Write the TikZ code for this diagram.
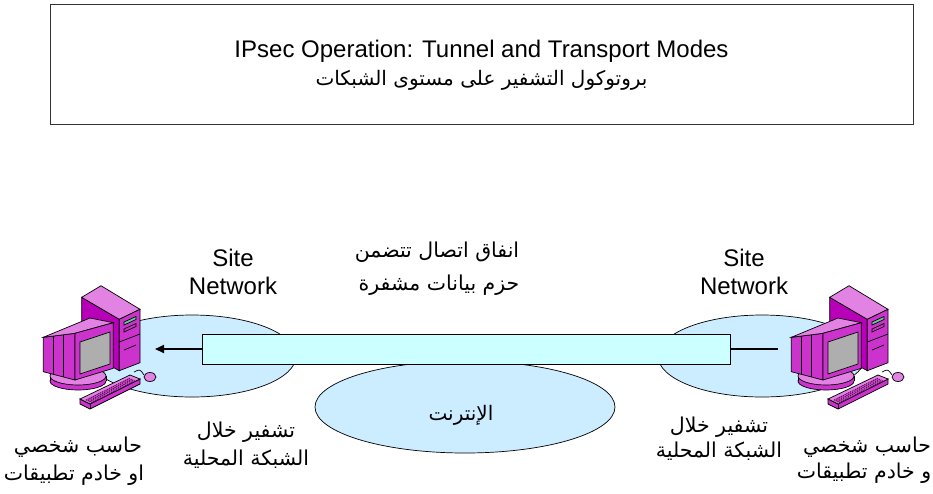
\documentclass[tikz,border=0pt]{standalone}
\usepackage{fontspec}
\setmainfont{Liberation Sans}
\newfontfamily\arabicfont[Script=Arabic]{DejaVu Sans}
\TeXXeTstate=1
\usetikzlibrary{positioning,shapes.geometric,arrows.meta,calc}

\definecolor{sitefill}{HTML}{CCECFF}
\definecolor{tunnelfill}{HTML}{CCFFFF}
\definecolor{pcdark}{HTML}{B800B8}
\definecolor{pcmid}{HTML}{CC33CC}
\definecolor{pclight}{HTML}{E282E2}
\definecolor{pcscreen}{HTML}{AEAEAE}
\definecolor{pcslot}{HTML}{66CC99}

\newcommand{\rtl}[1]{\beginR#1\endR}

\tikzset{
	pics/workstation/.style={code={
		% tower
		\draw[fill=pcdark] (51.7,17.3) -- (89.3,39.3) -- (89.3,90.7) -- (51.7,70) -- cycle;
		\draw[fill=pclight] (51.7,17.3) -- (71,5.7) -- (110,29.3) -- (89.3,39.3) -- cycle;
		\draw[fill=pcmid] (89.3,39.3) -- (110,29.3) -- (110,82.7) -- (89.3,90.7) -- cycle;
		\draw[fill=pcslot] (94,42) -- (106,36.5) -- (106,39.5) -- (94,45) -- cycle;
		\draw (94,49) -- (106,43.5) -- (106,46.5) -- (94,52) -- cycle;
		\draw (89.3,62) -- (110,54);
		\draw (94,70) -- (106,65);
		% stand
		\draw[fill=pcmid] (48,101) ellipse (28 and 9);
		\fill[pcmid] (20,96) rectangle (76,101);
		\draw (20,96) -- (20,101) (76,96) -- (76,101);
		\draw[fill=pclight] (48,96) ellipse (28 and 9);
		% monitor
		\draw[fill=pcmid] (13.3,57.3) -- (45,53.3) -- (45,100) -- (13.3,91.7) -- cycle;
		\draw (23.5,56) -- (23.5,94.3) (33.5,54.8) -- (33.5,97);
		\draw[fill=pclight] (13.3,57.3) -- (60,38) -- (83.3,42.7) -- (45,53.3) -- cycle;
		\draw[fill=pcmid] (45,53.3) -- (83.3,42.7) -- (83.3,88.3) -- (45,100) -- cycle;
		\draw[fill=pcscreen] (50,62) -- (80,52) -- (80,84) -- (50,94) -- cycle;
		% keyboard and mouse
		\draw[fill=pcmid] (50,119) -- (60,124) -- (110,99) -- (110,104) -- (60,129) -- (50,124) -- cycle;
		\draw (60,124) -- (60,129);
		\draw[fill=pclight] (50,119) -- (100,95) -- (110,99) -- (60,124) -- cycle;
		\foreach \k in {1,2,3,4}
			\draw[pcdark!60!black, line width=1.1pt, dash pattern=on 1.3pt off 0.7pt]
				($(54,119.5)+(\k*1.8,0.8*\k)$) -- ($(98,97.5)+(\k*1.8,0.8*\k)$);
		\draw (114,95) .. controls (110,89) .. (104,92);
		\draw[fill=pclight] (120,97) ellipse (6 and 4.5);
	}}
}

\begin{document}
\begin{tikzpicture}[x=1pt,y=-1pt, line width=0.7pt,
	en/.style={anchor=base, inner sep=0pt, font=\fontsize{24}{28}\selectfont},
	arb/.style={anchor=base, inner sep=0pt, font=\arabicfont\fontsize{20.5}{24}\selectfont},
	net/.style={ellipse, draw, fill=sitefill, inner sep=0pt}]
	\useasboundingbox (0,0) rectangle (933,493);

	\node (title) [draw=black!80, line width=1pt, minimum width=863pt, minimum height=120pt] at (481.5,64) {};
	\node (titleEn) [en] at (481.5,57) {IPsec Operation: Tunnel and Transport Modes};
	\node (titleAr) [arb, font=\arabicfont\fontsize{20}{24}\selectfont] at (481.5,85) {\rtl{بروتوكول التشفير على مستوى الشبكات}};

	\node (siteL) [net, minimum width=208pt, minimum height=82pt] at (192,356) {};
	\node (siteR) [net, minimum width=208pt, minimum height=82pt] at (762,356) {};
	\node (internet) [net, minimum width=300pt, minimum height=92pt] at (465,407) {};
	\node (tunnel) [draw, fill=tunnelfill, minimum width=528pt, minimum height=30pt, inner sep=0pt] at (466,349) {};

	\coordinate (pcLport) at (155,349);
	\coordinate (pcRport) at (778,349);
	\draw[line width=2pt, -{Triangle[length=9pt,width=8pt]}] (tunnel.west) -- (pcLport);
	\draw[line width=2pt] (tunnel.east) -- (pcRport);

	\pic (pcL) at (30,280) {workstation};
	\pic (pcR) at (778,280) {workstation};

	\node (siteLa) [en] at (233,266) {Site};
	\node (siteLb) [en] at (233,294) {Network};
	\node (siteRa) [en] at (744,266) {Site};
	\node (siteRb) [en] at (744,294) {Network};

	\node (tunA) [arb] at (437,257) {\rtl{انفاق اتصال تتضمن}};
	\node (tunB) [arb] at (439,290) {\rtl{حزم بيانات مشفرة}};
	\node (netText) [arb, font=\arabicfont\fontsize{20}{24}\selectfont] at (461,420) {\rtl{الإنترنت}};

	\node (encLa) [arb] at (246,437) {\rtl{تشفير خلال}};
	\node (encLb) [arb] at (246,465) {\rtl{الشبكة المحلية}};
	\node (encRa) [arb] at (719,432) {\rtl{تشفير خلال}};
	\node (encRb) [arb] at (719,457) {\rtl{الشبكة المحلية}};

	\node (hostLa) [arb] at (78,452) {\rtl{حاسب شخصي}};
	\node (hostLb) [arb] at (74,480) {\rtl{او خادم تطبيقات}};
	\node (hostRa) [arb] at (867,452) {\rtl{حاسب شخصي}};
	\node (hostRb) [arb] at (864,478) {\rtl{و خادم تطبيقات}};
\end{tikzpicture}
\end{document}
